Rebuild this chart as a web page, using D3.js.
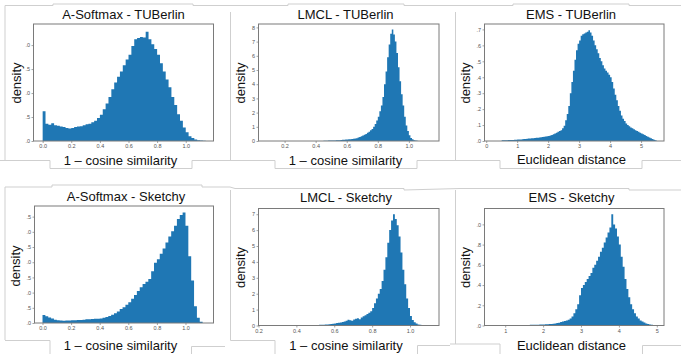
<!DOCTYPE html>
<html>
<head>
<meta charset="utf-8">
<script src="https://cdn.jsdelivr.net/npm/d3@7"></script>
<style>
  body { margin: 0; background: #fff; }
  text { font-family: "Liberation Sans", Arial, sans-serif; }
</style>
</head>
<body>
<svg id="chart" width="681" height="354"></svg>
<script>
// ---- data ----
const titles = ['A-Softmax - TUBerlin', 'LMCL - TUBerlin', 'EMS - TUBerlin',
                'A-Softmax - Sketchy', 'LMCL - Sketchy', 'EMS - Sketchy'];
const xLabels = ['1 \u2013 cosine similarity', '1 \u2013 cosine similarity', 'Euclidean distance',
                 '1 \u2013 cosine similarity', '1 \u2013 cosine similarity', 'Euclidean distance'];

// histogram bins: first edge, bin width, densities
const binStart = [0, 0.45, 0.5, 0, 0.42, 1.0];
const binWidth = [0.02, 0.01, 0.05, 0.02, 0.01, 0.05];

const aSoftmaxTUBerlin = [
  0.62, 0.36, 0.34, 0.37, 0.33, 0.32, 0.30, 0.29, 0.27, 0.26,
  0.27, 0.29, 0.30, 0.31, 0.33, 0.35, 0.36, 0.39, 0.42, 0.48,
  0.55, 0.66, 0.78, 0.92, 1.08, 1.22, 1.34, 1.45, 1.58, 1.70,
  1.80, 1.98, 2.12, 2.15, 2.17, 2.16, 2.28, 2.12, 2.02, 1.92,
  1.80, 1.62, 1.45, 1.28, 1.12, 0.92, 0.75, 0.56, 0.42, 0.28,
  0.18, 0.10, 0.06, 0.03, 0.015, 0.008, 0.004
];
const lmclTUBerlin = [
  0.02, 0.02, 0.02, 0.03, 0.03, 0.03, 0.04, 0.04, 0.05, 0.05,
  0.06, 0.07, 0.08, 0.09, 0.10, 0.11, 0.12, 0.13, 0.14, 0.15,
  0.17, 0.20, 0.24, 0.28, 0.33, 0.38, 0.44, 0.50, 0.58, 0.66,
  0.75, 0.85, 1.00, 1.20, 1.45, 1.70, 2.10, 2.50, 3.10, 4.00,
  4.90, 5.90, 6.80, 7.55, 7.85, 7.50, 7.00, 6.20, 5.20, 4.20,
  3.30, 2.50, 1.70, 1.10, 0.70, 0.40, 0.22, 0.12, 0.06, 0.03,
  0.01
];
const emsTUBerlin = [
  0.004, 0.004, 0.005, 0.005, 0.006, 0.006, 0.007, 0.007, 0.008, 0.008,
  0.009, 0.010, 0.010, 0.011, 0.012, 0.013, 0.014, 0.015, 0.016, 0.017,
  0.018, 0.019, 0.020, 0.021, 0.022, 0.024, 0.025, 0.027, 0.028, 0.030,
  0.032, 0.035, 0.038, 0.042, 0.047, 0.052, 0.058, 0.062, 0.068, 0.080,
  0.095, 0.13, 0.17, 0.22, 0.30, 0.37, 0.44, 0.51, 0.57, 0.61,
  0.63, 0.66, 0.67, 0.675, 0.68, 0.685, 0.695, 0.68, 0.66, 0.63,
  0.60, 0.575, 0.55, 0.52, 0.50, 0.475, 0.455, 0.44, 0.43, 0.415,
  0.40, 0.37, 0.33, 0.29, 0.255, 0.22, 0.19, 0.16, 0.14, 0.125,
  0.11, 0.10, 0.092, 0.085, 0.080, 0.074, 0.068, 0.063, 0.058, 0.052,
  0.047, 0.042, 0.037, 0.032, 0.027, 0.022, 0.017, 0.012, 0.008, 0.004
];
const aSoftmaxSketchy = [
  0.26, 0.22, 0.18, 0.15, 0.11, 0.09, 0.08, 0.07, 0.08, 0.08,
  0.09, 0.09, 0.10, 0.10, 0.11, 0.12, 0.12, 0.13, 0.14, 0.14,
  0.15, 0.17, 0.20, 0.23, 0.27, 0.32, 0.38, 0.46, 0.52, 0.60,
  0.68, 0.80, 0.92, 1.05, 1.18, 1.28, 1.36, 1.45, 1.70, 1.98,
  2.10, 2.28, 2.45, 2.65, 2.85, 3.02, 3.20, 3.42, 3.55, 3.64,
  3.20, 2.20, 1.40, 0.55, 0.17, 0.04
];
const lmclSketchy = [
  0.02, 0.02, 0.01, 0.01, 0.01, 0.02, 0.02, 0.02, 0.03, 0.03,
  0.04, 0.04, 0.05, 0.06, 0.07, 0.08, 0.09, 0.11, 0.13, 0.15,
  0.17, 0.19, 0.22, 0.25, 0.30, 0.36, 0.33, 0.30, 0.38, 0.42,
  0.45, 0.40, 0.50, 0.58, 0.65, 0.72, 0.80, 0.90, 1.10, 1.40,
  1.70, 2.00, 2.30, 2.80, 3.50, 4.30, 5.20, 6.00, 6.60, 7.00,
  6.70, 6.30, 5.60, 4.60, 3.50, 2.60, 1.70, 1.10, 0.60, 0.35,
  0.20, 0.12, 0.07, 0.04, 0.02, 0.01
];
const emsSketchy = [
  0.006, 0.005, 0.004, 0.004, 0.004, 0.004, 0.005, 0.005, 0.005, 0.006,
  0.006, 0.006, 0.006, 0.007, 0.007, 0.007, 0.008, 0.008, 0.009, 0.010,
  0.011, 0.012, 0.013, 0.014, 0.016, 0.018, 0.020, 0.024, 0.028, 0.034,
  0.040, 0.045, 0.050, 0.058, 0.070, 0.090, 0.120, 0.160, 0.210, 0.300,
  0.370, 0.400, 0.430, 0.460, 0.490, 0.520, 0.570, 0.600, 0.640, 0.680,
  0.730, 0.770, 0.820, 0.870, 0.920, 0.970, 1.100, 1.000, 0.960, 0.880,
  0.800, 0.680, 0.580, 0.460, 0.360, 0.280, 0.210, 0.160, 0.120, 0.090,
  0.070, 0.050, 0.040, 0.030, 0.020, 0.014, 0.010, 0.007, 0.005, 0.003
];
const series = [aSoftmaxTUBerlin, lmclTUBerlin, emsTUBerlin, aSoftmaxSketchy, lmclSketchy, emsSketchy];

// axis ranges and ticks
const xDomains = [[-0.064, 1.194], [0.032, 1.194], [-0.055, 5.74], [-0.056, 1.196], [0.2, 1.153], [0.454, 5.19]];
const yMax = [2.44, 8.24, 0.734, 3.85, 7.36, 1.157];
const xTicks = [
  [0, 0.2, 0.4, 0.6, 0.8, 1.0], [0.2, 0.4, 0.6, 0.8, 1.0], [0, 1, 2, 3, 4, 5],
  [0, 0.2, 0.4, 0.6, 0.8, 1.0], [0.2, 0.4, 0.6, 0.8, 1.0], [1, 2, 3, 4, 5]
];
const yTicks = [
  [0, 0.5, 1, 1.5, 2], [0, 1, 2, 3, 4, 5, 6, 7, 8], [0, 0.1, 0.2, 0.3, 0.4, 0.5, 0.6, 0.7],
  [0, 0.5, 1, 1.5, 2, 2.5, 3, 3.5], [0, 1, 2, 3, 4, 5, 6, 7], [0, 0.2, 0.4, 0.6, 0.8, 1.0]
];
// y tick labels are cut off at the left in the original screenshot
const xFmt = ['.1f', '.1f', 'd', '.1f', '.1f', 'd'];
const yFmt = ['cut', 'd', 'cut', 'cut', 'd', 'cut'];

// ---- layout ----
const frames = [
  { x0: 33.5, x1: 213.5, y0: 24, y1: 141 },
  { x0: 258.5, x1: 439, y0: 24, y1: 141 },
  { x0: 484.5, x1: 664, y0: 24, y1: 141 },
  { x0: 34.5, x1: 213.5, y0: 206, y1: 323 },
  { x0: 258.5, x1: 439, y0: 208.5, y1: 325.5 },
  { x0: 484.5, x1: 664, y0: 208.5, y1: 325.5 }
];
const titlePos = [[123.5, 19], [345.5, 19], [571, 19], [126, 201], [346, 202], [571.5, 202]];
const xLabelPos = [[120.5, 164.5], [345.5, 164.5], [571.5, 164], [120.5, 350], [346, 350], [571.5, 350]];
const yLabelPos = [[16, 83], [240, 83], [465, 83], [15.5, 266], [240, 267.5], [465, 267.5]];

const barColor = '#1f77b4';
const svg = d3.select('#chart');

// screenshot borders round each panel (light grey)
const borders = [
  [[5, 160], [5, 5.5], [53, 5.5], [53, 4], [193, 4], [193, 5.5], [288, 5.5], [288, 4], [404, 4], [404, 5.5], [513, 5.5], [513, 4], [629, 4], [629, 5.5], [681, 5.5]],
  [[0, 160.5], [50, 160.5], [50, 168.5], [192, 168.5], [192, 160.5], [275, 160.5], [275, 168.5], [417, 168.5], [417, 160.5], [500, 160.5], [500, 168.5], [642, 168.5], [642, 160.5], [681, 160.5]],
  [[230.5, 12], [230.5, 160.5]],
  [[455.5, 12], [455.5, 160.5]],
  [[5, 340], [5, 187], [52, 187], [52, 185], [202, 185], [202, 187], [230, 187], [235, 188.5], [288, 188.5], [404, 188.5], [404, 190], [460, 188.5], [513, 188.5], [629, 188.5], [629, 190], [681, 190]],
  [[5, 340.5], [50, 340.5], [50, 354]],
  [[191.5, 354], [191.5, 346.5], [225, 346.5]],
  [[230.5, 190], [230.5, 340.5], [275, 340.5], [275, 354]],
  [[417.5, 354], [417.5, 345.5], [450, 345.5]],
  [[455.5, 190], [455.5, 344]],
  [[450, 344], [500, 344], [500, 354]],
  [[642.5, 354], [642.5, 345.5], [681, 345.5]]
];
svg.append('g').selectAll('path')
  .data(borders)
  .enter()
  .append('path')
  .attr('d', d3.line())
  .attr('fill', 'none')
  .attr('stroke', '#cfcfcf')
  .attr('stroke-width', 1);

frames.forEach((f, i) => {
  const g = svg.append('g');
  const x = d3.scaleLinear().domain(xDomains[i]).range([f.x0, f.x1]);
  const y = d3.scaleLinear().domain([0, yMax[i]]).range([f.y1, f.y0]);

  // bins as step points (last edge repeats the final value)
  const vals = series[i];
  const pts = vals.map((v, k) => [binStart[i] + k * binWidth[i], v]);
  pts.push([binStart[i] + vals.length * binWidth[i], vals[vals.length - 1]]);

  const clipId = 'clip' + i;
  g.append('clipPath').attr('id', clipId)
    .append('rect')
    .attr('x', f.x0).attr('y', f.y0)
    .attr('width', f.x1 - f.x0).attr('height', f.y1 - f.y0);

  const area = d3.area()
    .x(d => x(d[0]))
    .y0(y(0))
    .y1(d => y(d[1]))
    .curve(d3.curveStepAfter);

  g.append('path')
    .datum(pts)
    .attr('clip-path', `url(#${clipId})`)
    .attr('d', area)
    .attr('fill', barColor);

  // axes
  const xAxis = d3.axisBottom(x)
    .tickValues(xTicks[i])
    .tickSize(2)
    .tickPadding(1.5)
    .tickFormat(d3.format(xFmt[i]));
  const yAxis = d3.axisLeft(y)
    .tickValues(yTicks[i])
    .tickSize(2)
    .tickPadding(1.5)
    .tickFormat(yFmt[i] === 'cut' ? (d => d3.format('.1f')(d).slice(1)) : d3.format('d'));

  [g.append('g').attr('transform', `translate(0,${f.y1})`).call(xAxis),
   g.append('g').attr('transform', `translate(${f.x0},0)`).call(yAxis)].forEach(a => {
    a.select('.domain').remove();
    a.selectAll('line').attr('stroke', '#666').attr('stroke-width', 0.6);
    a.selectAll('text')
      .attr('fill', '#555')
      .style('font-size', '5.5px');
  });

  // frame
  g.append('rect')
    .attr('x', f.x0).attr('y', f.y0)
    .attr('width', f.x1 - f.x0).attr('height', f.y1 - f.y0)
    .attr('fill', 'none')
    .attr('stroke', '#7a7a7a')
    .attr('stroke-width', 1);

  // labels
  g.append('text')
    .attr('x', titlePos[i][0]).attr('y', titlePos[i][1])
    .attr('text-anchor', 'middle')
    .style('font-size', '13px')
    .attr('fill', '#111')
    .text(titles[i]);

  g.append('text')
    .attr('x', xLabelPos[i][0]).attr('y', xLabelPos[i][1])
    .attr('text-anchor', 'middle')
    .style('font-size', '13px')
    .attr('fill', '#111')
    .text(xLabels[i]);

  g.append('text')
    .attr('transform', `translate(${yLabelPos[i][0]},${yLabelPos[i][1]}) rotate(-90)`)
    .attr('text-anchor', 'middle')
    .attr('dy', '0.35em')
    .style('font-size', '13px')
    .attr('fill', '#111')
    .text('density');
});
</script>
</body>
</html>
